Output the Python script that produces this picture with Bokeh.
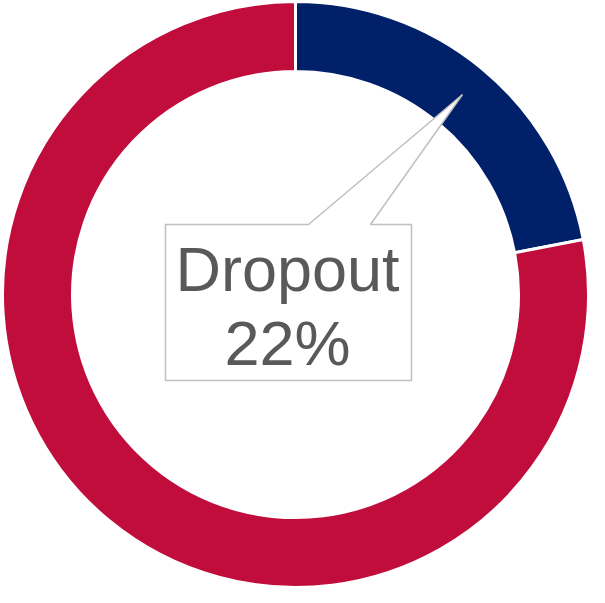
import math
from bokeh.plotting import figure
from bokeh.models import Range1d, ColumnDataSource
from bokeh.core.properties import value
from bokeh.embed import file_html
from bokeh.resources import INLINE

categories = ["Dropout", "Other"]
shares = [22, 78]
colors = ["#002169", "#C00D3C"]
label_lines = ["Dropout", "22%"]

W, H = 589, 587
cx, cy = 295, 293
r_out, r_in = 293, 223

total = sum(shares)
starts, ends = [], []
acc = 0.0
for s in shares:
    starts.append(math.pi / 2 - 2 * math.pi * acc / total)
    acc += s
    ends.append(math.pi / 2 - 2 * math.pi * acc / total)

src = ColumnDataSource(dict(cat=categories, start=starts, end=ends, color=colors,
                            x=[cx] * len(shares), y=[cy] * len(shares)))

p = figure(width=W, height=H, output_backend="svg", toolbar_location=None,
           x_range=Range1d(0, W), y_range=Range1d(0, H), min_border=0)
p.axis.visible = False
p.grid.visible = False
p.outline_line_color = None
p.background_fill_color = "white"

p.annular_wedge(x="x", y="y", inner_radius=r_in, outer_radius=r_out,
                start_angle="start", end_angle="end", direction="clock",
                fill_color="color", line_color="white", line_width=3, source=src)

# callout box with pointer toward the Dropout slice
ax, ay = cx + 167, cy + 200
bx0, bx1, by0, by1 = cx - 130, cx + 116, cy - 86, cy + 70
xs = [bx0, cx + 13, ax, cx + 75, bx1, bx1, bx0]
ys = [by1, by1, ay, by1, by1, by0, by0]
p.patch(xs, ys, fill_color="white", line_color="#BFBFBF", line_width=1.5)

p.text(x=[cx - 8, cx - 8], y=[cy + 26, cy - 48], text=label_lines,
       text_font=value("Liberation Sans"), text_font_size="63px",
       text_color="#595959", text_align="center", text_baseline="alphabetic")

open("out.html", "w").write(file_html(p, INLINE))
